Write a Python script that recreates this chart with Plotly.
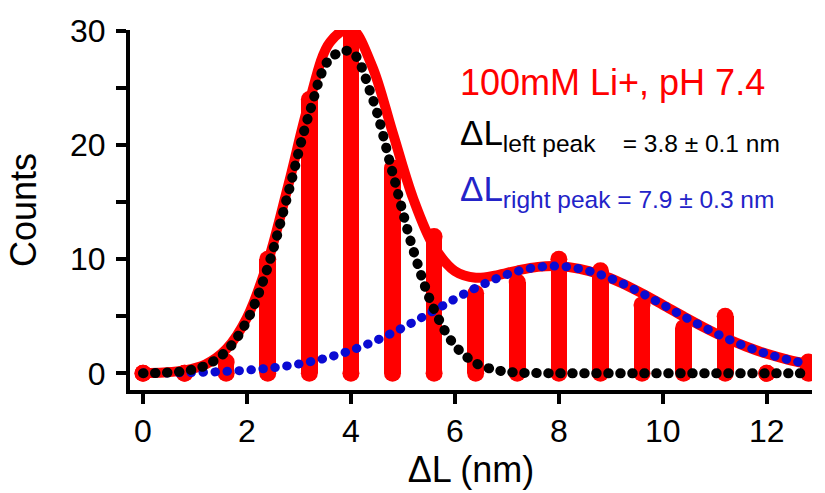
import plotly.graph_objects as go

# ---- data ----
bin_centers = [0, 0.8, 1.6, 2.4, 3.2, 4.0, 4.8, 5.6, 6.4, 7.2, 8.0, 8.8, 9.6, 10.4, 11.2, 12.0, 12.8]
counts = [0, 0, 1, 10, 24, 30, 18, 12, 7, 8, 10, 9, 6, 4, 5, 0, 1]

x_fit = [0, 0.4, 0.8, 1.2, 1.6, 2.0, 2.4, 2.8, 3.2, 3.6, 4.0, 4.4, 4.8, 5.2, 5.6, 6.0, 6.4,
         6.8, 7.2, 7.6, 8.0, 8.4, 8.8, 9.2, 9.6, 10.0, 10.4, 10.8, 11.2, 11.6, 12.0, 12.4, 12.8]
left_peak_fit = [0.01, 0.05, 0.2, 0.68, 1.94, 4.6, 9.3, 15.9, 22.8, 27.6, 28.2, 24.3, 17.6, 10.8,
                 5.6, 2.44, 0.9, 0.28, 0.07, 0.02, 0, 0, 0, 0, 0, 0, 0, 0, 0, 0, 0, 0, 0]
right_peak_fit = [0.02, 0.03, 0.06, 0.10, 0.17, 0.28, 0.44, 0.67, 1.0, 1.44, 2.01, 2.71, 3.55, 4.49,
                  5.5, 6.52, 7.48, 8.31, 8.94, 9.31, 9.39, 9.16, 8.66, 7.92, 7.01, 6.01, 4.99, 4.01,
                  3.12, 2.35, 1.71, 1.21, 0.82]
total_fit = [0.03, 0.08, 0.26, 0.78, 2.11, 4.88, 9.74, 16.57, 23.8, 29.04, 30.21, 27.01, 21.15, 15.29,
             11.1, 8.96, 8.38, 8.59, 9.01, 9.33, 9.39, 9.16, 8.66, 7.92, 7.01, 6.01, 4.99, 4.01,
             3.12, 2.35, 1.71, 1.21, 0.82]

x_ticks = [0, 2, 4, 6, 8, 10, 12]
y_ticks = [0, 10, 20, 30]
y_minor = [5, 15, 25]

title_text = "100mM Li+, pH 7.4"
left_text = "ΔL<sub>left peak\u00a0\u00a0\u00a0 = 3.8 ± 0.1 nm</sub>"
right_text = "ΔL<sub>right peak = 7.9 ± 0.3 nm</sub>"

RED = "#ff0000"
BLUE = "#0a0ad2"
BLUE_TXT = "#2323c8"
FONT = "Arial, Liberation Sans, sans-serif"

fig = go.Figure()

# bars (thick, with rounded ends)
fig.add_trace(go.Bar(x=bin_centers, y=counts, width=0.32, marker=dict(color=RED, line=dict(width=0)),
                     showlegend=False, hoverinfo="skip"))
fig.add_trace(go.Scatter(x=bin_centers + bin_centers, y=[0] * len(counts) + counts, mode="markers",
                         marker=dict(color=RED, size=17, line=dict(width=0)),
                         showlegend=False, hoverinfo="skip"))
# total fit
fig.add_trace(go.Scatter(x=x_fit, y=total_fit, mode="lines",
                         line=dict(color=RED, width=10, shape="spline"), showlegend=False))
# right peak (blue dotted)
fig.add_trace(go.Scatter(x=x_fit, y=right_peak_fit, mode="lines",
                         line=dict(color=BLUE, width=9, shape="spline", dash="0.5px,11.5px"),
                         showlegend=False))
# left peak (black dotted)
fig.add_trace(go.Scatter(x=x_fit, y=left_peak_fit, mode="lines",
                         line=dict(color="black", width=10, shape="spline", dash="0.5px,11.5px"),
                         showlegend=False))

axis_common = dict(showgrid=False, zeroline=False, showline=True, linecolor="black", linewidth=4,
                   ticks="outside", ticklen=10, tickwidth=4, tickcolor="black", automargin=False,
                   tickfont=dict(family=FONT, size=32, color="black"))

fig.update_xaxes(range=[-0.25, 12.87], tickvals=x_ticks, ticklabelstandoff=0, **axis_common,
                 title=dict(text="ΔL (nm)", font=dict(family=FONT, size=36, color="black"), standoff=8))
fig.update_yaxes(range=[-1.46, 30.09], tickvals=y_ticks, ticklabelstandoff=4, **axis_common,
                 minor=dict(tickvals=y_minor, ticks="outside", ticklen=10, tickwidth=4, tickcolor="black"),
                 title=dict(text="Counts", font=dict(family=FONT, size=36, color="black"), standoff=23))

fig.add_annotation(x=6.06, y=25.5, xref="x", yref="y", text=title_text, showarrow=False,
                   xanchor="left", yanchor="middle", font=dict(family=FONT, size=36, color=RED))
fig.add_annotation(x=6.06, y=20.9, xref="x", yref="y", text=left_text, showarrow=False,
                   xanchor="left", yanchor="middle", font=dict(family=FONT, size=35, color="black"))
fig.add_annotation(x=6.06, y=16.0, xref="x", yref="y", text=right_text, showarrow=False,
                   xanchor="left", yanchor="middle", font=dict(family=FONT, size=35, color=BLUE_TXT))

fig.update_layout(width=825, height=493, margin=dict(l=130, r=13, t=30, b=103, autoexpand=False),
                  plot_bgcolor="white", paper_bgcolor="white", bargap=0, showlegend=False)

post = """
document.body.style.margin = '0';
document.body.style.padding = '0';
var gd = document.getElementById('{plot_id}');
function fixCaps(){
  gd.querySelectorAll('.scatterlayer .js-line').forEach(function(p){
    p.style.strokeLinecap = 'round';
    p.style.strokeLinejoin = 'round';
  });
}
fixCaps();
gd.on('plotly_afterplot', fixCaps);
"""
fig.write_html("out.html", post_script=post, config={"displayModeBar": False})
